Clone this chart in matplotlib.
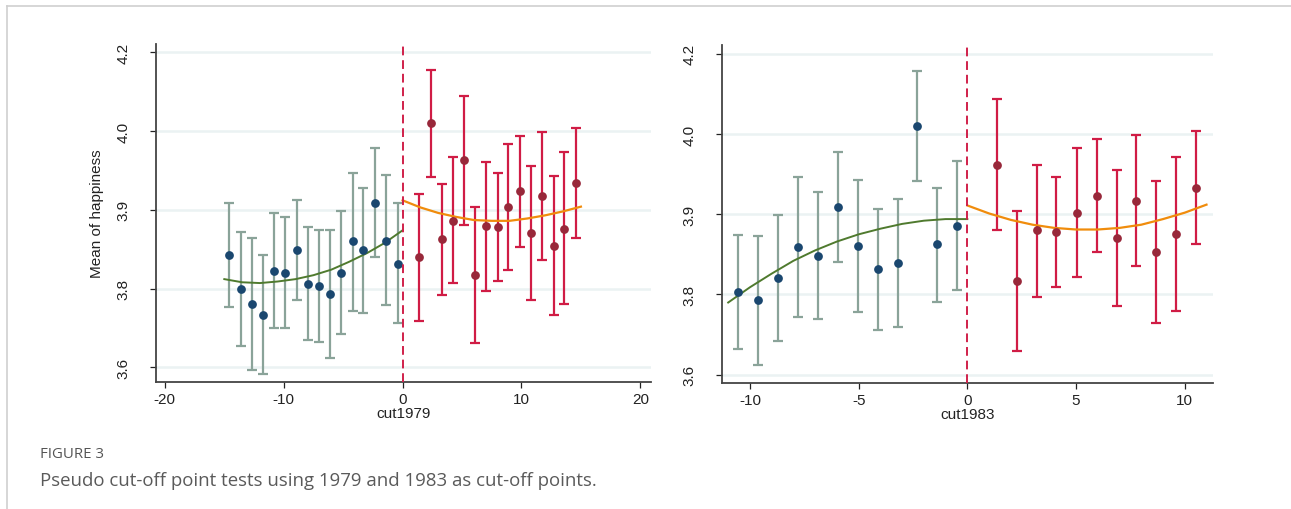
import matplotlib
matplotlib.use("Agg")
import matplotlib.pyplot as plt
from matplotlib.lines import Line2D

# ---- data ----
# y axis: evenly spaced ticks, labelled as in the original
ytick_pos = [3.7, 3.8, 3.9, 4.0, 4.1]
ytick_labels = ["3.6", "3.8", "3.9", "4.0", "4.2"]

# panel 1: cut1979
bx1 = [-14.6, -13.6, -12.7, -11.75, -10.8, -9.9, -8.9, -8.0, -7.0, -6.1, -5.2, -4.2, -3.3, -2.3, -1.4, -0.4]
by1 = [3.842, 3.799, 3.780, 3.767, 3.822, 3.820, 3.849, 3.806, 3.803, 3.793, 3.820, 3.860, 3.849, 3.909, 3.861, 3.831]
bhi1 = [3.909, 3.872, 3.864, 3.842, 3.896, 3.891, 3.913, 3.878, 3.874, 3.874, 3.899, 3.947, 3.928, 3.979, 3.944, 3.908]
blo1 = [3.776, 3.727, 3.697, 3.691, 3.750, 3.750, 3.785, 3.735, 3.732, 3.712, 3.742, 3.772, 3.769, 3.840, 3.779, 3.756]

rx1 = [1.4, 2.35, 3.3, 4.25, 5.2, 6.1, 7.05, 8.0, 8.9, 9.9, 10.8, 11.75, 12.7, 13.6, 14.6]
ry1 = [3.840, 4.010, 3.863, 3.886, 3.963, 3.817, 3.880, 3.878, 3.903, 3.924, 3.870, 3.918, 3.854, 3.876, 3.934]
rhi1 = [3.920, 4.078, 3.933, 3.967, 4.044, 3.904, 3.961, 3.947, 3.983, 3.994, 3.956, 3.999, 3.943, 3.974, 4.004]
rlo1 = [3.759, 3.942, 3.792, 3.807, 3.881, 3.731, 3.797, 3.809, 3.823, 3.853, 3.786, 3.836, 3.766, 3.780, 3.864]

fit_lx1 = [-15, -13.5, -12, -10.5, -9, -7.5, -6, -4.5, -3, -1.5, 0]
fit_ly1 = [3.812, 3.808, 3.807, 3.809, 3.812, 3.817, 3.824, 3.834, 3.845, 3.858, 3.874]
fit_rx1 = [0, 1.5, 3, 4.5, 6, 7.5, 9, 10.5, 12, 13.5, 15]
fit_ry1 = [3.912, 3.903, 3.896, 3.891, 3.887, 3.886, 3.886, 3.889, 3.893, 3.898, 3.904]

# panel 2: cut1983
bx2 = [-10.56, -9.63, -8.70, -7.79, -6.88, -5.96, -5.05, -4.12, -3.21, -2.30, -1.39, -0.46]
by2 = [3.803, 3.793, 3.820, 3.859, 3.848, 3.909, 3.860, 3.832, 3.839, 4.010, 3.863, 3.886]
bhi2 = [3.874, 3.873, 3.899, 3.947, 3.928, 3.978, 3.943, 3.907, 3.919, 4.078, 3.933, 3.967]
blo2 = [3.732, 3.712, 3.742, 3.772, 3.769, 3.840, 3.778, 3.756, 3.759, 3.942, 3.791, 3.806]

rx2 = [1.36, 2.28, 3.19, 4.10, 5.03, 5.96, 6.87, 7.78, 8.69, 9.61, 10.52]
ry2 = [3.962, 3.817, 3.880, 3.878, 3.902, 3.923, 3.870, 3.917, 3.853, 3.876, 3.933]
rhi2 = [4.044, 3.904, 3.961, 3.947, 3.983, 3.994, 3.955, 3.999, 3.942, 3.972, 4.004]
rlo2 = [3.880, 3.730, 3.797, 3.809, 3.822, 3.853, 3.786, 3.836, 3.764, 3.779, 3.863]

fit_lx2 = [-11, -10, -9, -8, -7, -6, -5, -4, -3, -2, -1, 0]
fit_ly2 = [3.790, 3.809, 3.826, 3.842, 3.855, 3.866, 3.875, 3.882, 3.888, 3.892, 3.894, 3.894]
fit_rx2 = [0, 1, 2, 3, 4, 5, 6, 7, 8, 9, 10, 11]
fit_ry2 = [3.911, 3.901, 3.893, 3.887, 3.883, 3.881, 3.881, 3.883, 3.887, 3.894, 3.902, 3.912]

# ---- styling ----
plt.rcParams['font.family'] = ['Liberation Sans', 'DejaVu Sans']
C_BDOT = '#1a476f'
C_BERR = '#8aa399'
C_RDOT = '#98283a'
C_RERR = '#d01c45'
C_GFIT = '#4f7a2e'
C_OFIT = '#f08c0c'
C_CUT = '#d0204a'
C_GRID = '#ebf2f3'

fig = plt.figure(figsize=(12.91, 5.10), dpi=100)
fig.patch.set_facecolor('white')

ax1 = fig.add_axes([0.1208, 0.2484, 0.3835, 0.6634])
ax2 = fig.add_axes([0.5590, 0.2471, 0.3806, 0.6627])


def draw_panel(ax, bx, by, blo, bhi, rx, ry, rlo, rhi, flx, fly, frx, fry,
               xlim, ylim, xticks, xlabel):
    ax.set_xlim(*xlim)
    ax.set_ylim(*ylim)
    for y in ytick_pos:
        ax.axhline(y, color=C_GRID, lw=1.8, zorder=0)

    # error bars (min-max caps)
    ax.errorbar(bx, by, yerr=[[m - l for m, l in zip(by, blo)], [h - m for m, h in zip(by, bhi)]],
                fmt='none', ecolor=C_BERR, elinewidth=1.6, capsize=3.5, capthick=1.6, zorder=2)
    ax.errorbar(rx, ry, yerr=[[m - l for m, l in zip(ry, rlo)], [h - m for m, h in zip(ry, rhi)]],
                fmt='none', ecolor=C_RERR, elinewidth=1.6, capsize=3.5, capthick=1.6, zorder=2)

    ax.plot(flx, fly, color=C_GFIT, lw=1.4, zorder=3)
    ax.plot(frx, fry, color=C_OFIT, lw=1.6, zorder=3)

    ax.plot(bx, by, 'o', color=C_BDOT, ms=6.3, mec='none', zorder=4)
    ax.plot(rx, ry, 'o', color=C_RDOT, ms=6.3, mec='none', zorder=4)

    ax.axvline(0, color=C_CUT, lw=1.4, ls=(0, (4.5, 2.5)), zorder=5)

    ax.set_yticks(ytick_pos)
    ax.set_yticklabels(ytick_labels, rotation=90, va='center')
    ax.set_xticks(xticks)
    ax.set_xticklabels([str(t) for t in xticks])
    ax.tick_params(axis='y', length=4, width=0.9, pad=14, labelsize=11, colors='#222222')
    ax.tick_params(axis='x', length=4, width=0.9, pad=3, labelsize=11, colors='#222222')
    ax.set_xlabel(xlabel, fontsize=11, labelpad=0, color='#222222')

    for side in ('top', 'right'):
        ax.spines[side].set_visible(False)
    for side in ('left', 'bottom'):
        ax.spines[side].set_color('#444444')
        ax.spines[side].set_linewidth(1.3)


draw_panel(ax1, bx1, by1, blo1, bhi1, rx1, ry1, rlo1, rhi1,
           fit_lx1, fit_ly1, fit_rx1, fit_ry1,
           (-20.75, 20.9), (3.681, 4.1105), [-20, -10, 0, 10, 20], 'cut1979')
ax1.set_ylabel('Mean of happiness', fontsize=11, labelpad=9, color='#222222')

draw_panel(ax2, bx2, by2, blo2, bhi2, rx2, ry2, rlo2, rhi2,
           fit_lx2, fit_ly2, fit_rx2, fit_ry2,
           (-11.3, 11.3), (3.6897, 4.111), [-10, -5, 0, 5, 10], 'cut1983')

# page frame (top and left edges)
fig.add_artist(Line2D([7 / 1291, 1.0], [1 - 7 / 510, 1 - 7 / 510], color='#cfcfcf', lw=1.2))
fig.add_artist(Line2D([7 / 1291, 7 / 1291], [0.0, 1 - 7 / 510], color='#cfcfcf', lw=1.2))

# caption
fig.text(40 / 1291, 1 - 455 / 510, 'FIGURE 3', fontsize=10.8, color='#555555',
         family=['Open Sans', 'DejaVu Sans'], va='center', ha='left')
fig.text(40 / 1291, 1 - 481 / 510, 'Pseudo cut-off point tests using 1979 and 1983 as cut-off points.',
         fontsize=13.4, color='#5a5a5a', family=['Open Sans', 'DejaVu Sans'], va='center', ha='left')

fig.savefig('out.png', dpi=100, facecolor='white')
